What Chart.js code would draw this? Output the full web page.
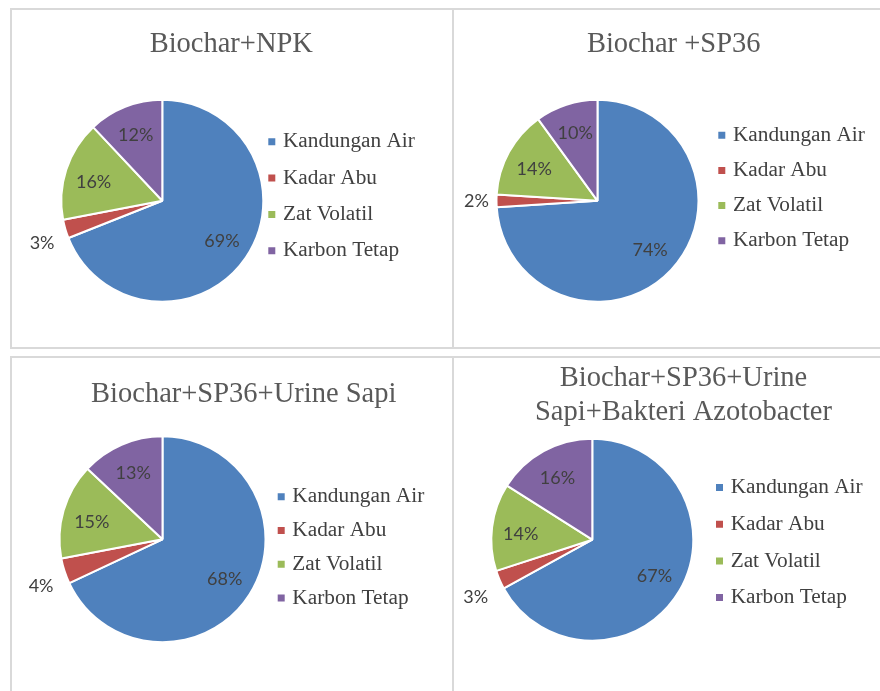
<!DOCTYPE html>
<html>
<head>
<meta charset="utf-8">
<script src="https://cdn.jsdelivr.net/npm/chart.js@4.4.1/dist/chart.umd.min.js"></script>
<style>
  html, body { margin: 0; padding: 0; background: #fff; overflow: hidden; }
  .frame { position: absolute; box-sizing: border-box; border: 2px solid #d9d9d9; }
  canvas { position: absolute; }
</style>
</head>
<body>
<div class="frame" style="left:10px;top:8px;width:444px;height:341px"></div>
<div class="frame" style="left:452px;top:8px;width:460px;height:341px"></div>
<div class="frame" style="left:10px;top:356px;width:444px;height:360px"></div>
<div class="frame" style="left:452px;top:356px;width:460px;height:360px"></div>
<canvas id="pie0"></canvas>
<canvas id="pie1"></canvas>
<canvas id="pie2"></canvas>
<canvas id="pie3"></canvas>
<script>
// data
const categories = ['Kandungan Air', 'Kadar Abu', 'Zat Volatil', 'Karbon Tetap'];
const titles = ['Biochar+NPK', 'Biochar +SP36', 'Biochar+SP36+Urine Sapi', ['Biochar+SP36+Urine', 'Sapi+Bakteri Azotobacter']];
const npkValues = [69, 3, 16, 12];
const sp36Values = [74, 2, 14, 10];
const urineValues = [68, 4, 15, 13];
const azotoValues = [67, 3, 14, 16];
const series = [npkValues, sp36Values, urineValues, azotoValues];
const colors = ['#4f81bd', '#c0504d', '#9bbb59', '#8064a2'];

// where things sit on the page (px): canvas box, pie centre/radius, title centre,
// legend marker left edge, first legend row, row pitch
const layout = [
  { box: [12, 10, 440, 337],  cx: 162.3, cy: 200.8, r: 101, tx: 231.3, ty: 45.0,  sq: 268.3, row0: 141.8, gap: 36.3 },
  { box: [454, 10, 440, 337], cx: 597.5, cy: 200.8, r: 101, tx: 673.7, ty: 45.0,  sq: 718.3, row0: 135.2, gap: 35.2 },
  { box: [12, 358, 440, 333], cx: 162.5, cy: 539.3, r: 103, tx: 243.7, ty: 395.0, sq: 277.7, row0: 496.8, gap: 33.7 },
  { box: [454, 358, 440, 333], cx: 592.3, cy: 539.7, r: 101, tx: 683.5, ty: 378.5, sq: 716.0, row0: 487.5, gap: 36.7 }
];

const TITLE_SIZE = 28.5;
const LEGEND_SIZE = 21.3;
const SERIF = '"Liberation Serif", "Times New Roman", serif';
const legendFont = { family: SERIF, size: LEGEND_SIZE };

const mctx = document.createElement('canvas').getContext('2d');
mctx.font = Chart.helpers.toFont(legendFont).string;
const legendTextW = Math.max(...categories.map(t => mctx.measureText(t).width));

// percentage labels: inside for big slices, outside for the thin ones
const pctLabels = {
  id: 'pctLabels',
  afterDatasetsDraw(chart) {
    const ctx = chart.ctx;
    const vals = chart.data.datasets[0].data;
    const total = vals.reduce((a, b) => a + b, 0);
    ctx.save();
    ctx.font = '18px Lato, "Open Sans", sans-serif';
    ctx.fillStyle = '#404040';
    ctx.textAlign = 'center';
    ctx.textBaseline = 'middle';
    chart.getDatasetMeta(0).data.forEach((arc, i) => {
      const p = arc.getProps(['x', 'y', 'startAngle', 'endAngle', 'outerRadius'], true);
      const mid = (p.startAngle + p.endAngle) / 2;
      const dx = Math.cos(mid), dy = Math.sin(mid);
      const pct = vals[i] / total * 100;
      let x, y;
      if (pct < 5) {
        const d = p.outerRadius + 20 + 15 * Math.abs(dy);
        x = p.x + dx * d;
        y = p.y + dy * d + (Math.abs(dy) > 0.1 ? 7 * Math.sign(dy) : 0);
      } else {
        const d = p.outerRadius * 0.715;
        x = p.x + dx * d;
        y = p.y + dy * d + 4 * Math.max(0, -dx);
      }
      ctx.fillText(Math.round(pct) + '%', x, y);
    });
    ctx.restore();
  }
};

// title centre is not tied to the pie centre in the original, move it after layout
const titleShift = {
  id: 'titleShift',
  afterLayout(chart, args, opts) {
    const t = chart.titleBlock;
    const d = opts.x - (t.left + t.right) / 2;
    t.left += d;
    t.right += d;
  }
};

function legendItems(chart) {
  return Chart.overrides.pie.plugins.legend.labels.generateLabels(chart)
    .map(item => Object.assign(item, { lineWidth: 0, pointStyle: 'rect' }));
}

series.forEach((values, k) => {
  const g = layout[k];
  const [ox, oy, W, H] = g.box;
  const canvas = document.getElementById('pie' + k);
  canvas.width = W; canvas.height = H;
  canvas.style.left = ox + 'px'; canvas.style.top = oy + 'px';

  const lines = Array.isArray(titles[k]) ? titles[k].length : 1;
  const lh = TITLE_SIZE * 1.2;
  const cx = g.cx - ox, cy = g.cy - oy;
  const titleTop = g.ty - oy - lh / 2;
  const areaTop = titleTop + lines * lh + 4;
  const padBottom = H - (2 * cy - areaTop);
  const pad = g.gap - LEGEND_SIZE;
  const legendLeft = g.sq + 3 - ox - pad;
  const padLeft = 2 * cx - legendLeft;
  const legendW = pad + 1 + LEGEND_SIZE / 2 + legendTextW + 10;
  const padRight = W - legendLeft - legendW;
  const legTitlePad = (g.row0 - oy) - LEGEND_SIZE / 2 - pad - areaTop - 1;

  new Chart(canvas, {
    type: 'pie',
    data: {
      labels: categories,
      datasets: [{
        data: values,
        backgroundColor: colors,
        borderColor: '#ffffff',
        borderWidth: 2,
        radius: g.r
      }]
    },
    options: {
      responsive: false,
      animation: false,
      events: [],
      layout: { padding: { left: padLeft, right: padRight, top: 0, bottom: padBottom } },
      plugins: {
        title: {
          display: true,
          text: titles[k],
          color: '#595959',
          font: { family: SERIF, size: TITLE_SIZE, weight: 'normal', lineHeight: 1.2 },
          padding: { top: titleTop, bottom: 4 }
        },
        titleShift: { x: g.tx - ox },
        legend: {
          position: 'right',
          align: 'start',
          fullSize: false,
          title: { display: true, text: '', font: { size: 1, lineHeight: 1 }, padding: { top: legTitlePad, bottom: 0 } },
          labels: {
            usePointStyle: true,
            pointStyle: 'rect',
            boxWidth: 1,
            boxHeight: 7,
            padding: pad,
            color: '#404040',
            font: legendFont,
            generateLabels: legendItems
          }
        },
        tooltip: { enabled: false }
      }
    },
    plugins: [pctLabels, titleShift]
  });
});
</script>
</body>
</html>
